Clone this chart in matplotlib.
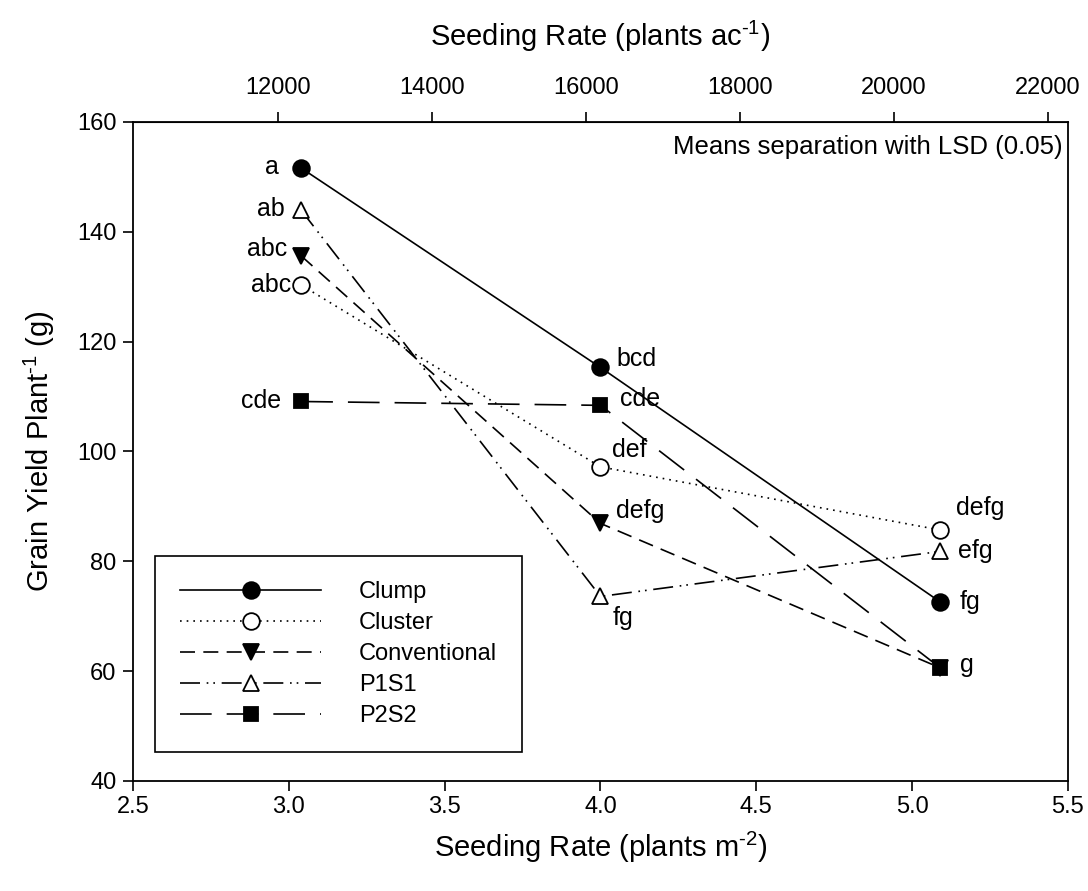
"""
Grain yield per plant against seeding rate for five planting patterns,
with LSD means-separation letters next to each point.
"""
import numpy as np
import matplotlib
matplotlib.use('Agg')
import matplotlib.pyplot as plt

# seeding rates (plants m-2) and yield per plant (g)
seeding_rate = [3.04, 4.00, 5.09]
clump = [151.6, 115.3, 72.6]
cluster = [130.3, 97.2, 85.7]
conventional = [135.6, 86.9, 60.6]
p1s1 = [143.9, 73.6, 81.8]
p2s2 = [109.1, 108.4, 60.6]

# LSD letters, same order as the values
clump_letters = ['a', 'bcd', 'fg']
cluster_letters = ['abc', 'def', 'defg']
conventional_letters = ['abc', 'defg', '']
p1s1_letters = ['ab', 'fg', 'efg']
p2s2_letters = ['cde', 'cde', 'g']

M2_TO_AC = 4046.86  # plants m-2 -> plants ac-1

plt.rcParams['font.family'] = ['Liberation Sans', 'DejaVu Sans']
plt.rcParams['mathtext.fontset'] = 'custom'
plt.rcParams['mathtext.rm'] = 'Liberation Sans'
plt.rcParams['mathtext.it'] = 'Liberation Sans'
plt.rcParams['mathtext.default'] = 'regular'

fig = plt.figure(figsize=(10.88, 8.91), dpi=100)
ax = fig.add_axes([0.1222, 0.1235, 0.8594, 0.7396])

series = [
    ('Clump', clump, clump_letters,
     dict(ls='-', marker='o', mfc='black')),
    ('Cluster', cluster, cluster_letters,
     dict(ls=(0, (1, 3)), marker='o', mfc='white')),
    ('Conventional', conventional, conventional_letters,
     dict(ls=(0, (9, 5)), marker='v', mfc='black')),
    ('P1S1', p1s1, p1s1_letters,
     dict(ls=(0, (12, 4, 1, 3, 1, 4)), marker='^', mfc='white')),
    ('P2S2', p2s2, p2s2_letters,
     dict(ls=(0, (19, 9)), marker='s', mfc='black')),
]

for name, yields, letters, style in series:
    ms = 10.5 if style['marker'] == 's' else 12
    ax.plot(seeding_rate, yields, color='black', lw=1.2, mec='black',
            mew=1.3, ms=ms, label=name, **style)

# letter offsets in pixels (dx, dy, ha) for each point
offsets = {
    'Clump': [(-22, 1, 'right'), (16, 8, 'left'), (19, 0, 'left')],
    'Cluster': [(-10, 0, 'right'), (12, 17, 'left'), (16, 22, 'left')],
    'Conventional': [(-14, 7, 'right'), (16, 12, 'left'), (0, 0, 'left')],
    'P1S1': [(-17, 1, 'right'), (12, -22, 'left'), (18, 0, 'left')],
    'P2S2': [(-20, 0, 'right'), (20, 6, 'left'), (20, 3, 'left')],
}
for name, yields, letters, style in series:
    for x, y, txt, (dx, dy, ha) in zip(seeding_rate, yields, letters,
                                        offsets[name]):
        if not txt:
            continue
        ax.annotate(txt, (x, y), xytext=(dx * 0.72, dy * 0.72),
                    textcoords='offset points', ha=ha, va='center',
                    fontsize=18)

ax.set_xlim(2.5, 5.5)
ax.set_ylim(40, 160)
ticks_x = np.arange(2.5, 5.51, 0.5)
ax.set_xticks(ticks_x)
ax.set_xticklabels([f'{v:.1f}' for v in ticks_x])
ax.set_yticks(np.arange(40, 161, 20))
ax.tick_params(direction='out', length=7, width=1.2, labelsize=17)
ax.tick_params(axis='x', pad=4)
ax.tick_params(axis='y', pad=5)
for sp in ax.spines.values():
    sp.set_linewidth(1.3)

ax.set_xlabel(r'Seeding Rate (plants m$^{\text{-}2}$)', fontsize=21,
              labelpad=8.5)
ax.set_ylabel(r'Grain Yield Plant$^{\text{-}1}$ (g)', fontsize=21,
              labelpad=14)

top = ax.secondary_xaxis('top', functions=(lambda x: x * M2_TO_AC,
                                           lambda x: x / M2_TO_AC))
top.set_xticks(np.arange(12000, 22001, 2000))
top.tick_params(direction='out', length=7, width=1.2, labelsize=17, pad=9.5)
top.set_xlabel(r'Seeding Rate (plants ac$^{\text{-}1}$)', fontsize=21,
               labelpad=22.5)

ax.text(0.994, 0.962, 'Means separation with LSD (0.05)',
        transform=ax.transAxes, ha='right', va='center', fontsize=18.5)

leg = ax.legend(loc='lower left', bbox_to_anchor=(0.0235, 0.044),
                borderaxespad=0, fontsize=17, handlelength=6.0,
                handletextpad=1.6, labelspacing=0.38, borderpad=1.05,
                fancybox=False, edgecolor='black', framealpha=1)
leg.get_frame().set_linewidth(1.2)

fig.savefig('out.png', dpi=100)
